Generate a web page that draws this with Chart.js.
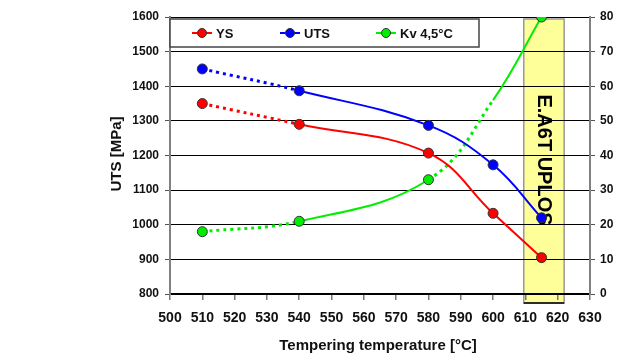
<!DOCTYPE html>
<html>
<head>
<meta charset="utf-8">
<script src="https://cdn.jsdelivr.net/npm/chart.js@4"></script>
<style>
    html, body { margin: 0; padding: 0; background: #fff; }
    #wrap { width: 623px; height: 362px; }
</style>
</head>
<body>
<div id="wrap"><canvas id="chart" width="623" height="362"></canvas></div>
<script>
// tempering temperatures, °C
const temps = [510, 540, 580, 600, 615];
const ysValues = [1350, 1290, 1207, 1033, 905];
const utsValues = [1450, 1387, 1287, 1173, 1020];
// Kv at 600 has no marker in the original, only the curve passes there
const kvTemps = [510, 540, 580, 600, 615];
const kvValues = [18, 21, 33, 56, 80];
const kvMarkers = [true, true, true, false, true];

const bandRange = [609.5, 622];
const bandLabel = "E.A6T UPLOS";
const seriesNames = ["YS", "UTS", "Kv 4,5°C"];
const seriesColors = ["#ff0000", "#0000ff", "#00ee00"];

const FONT = 'Arial, "Liberation Sans", sans-serif';

function toPoints(xs, ys) {
    return xs.map((x, i) => ({x: x, y: ys[i]}));
}

const dotted = [3, 4];

const bandPlugin = {
    id: "band",
    beforeDraw(chart) {
        const {ctx, chartArea, scales} = chart;
        const x0 = scales.x.getPixelForValue(bandRange[0]);
        const x1 = scales.x.getPixelForValue(bandRange[1]);
        const top = chartArea.top + 2;
        const bottom = chartArea.bottom + 9;
        ctx.save();
        ctx.fillStyle = "#ffff99";
        ctx.fillRect(x0, top, x1 - x0, bottom - top);
        ctx.strokeStyle = "#999";
        ctx.lineWidth = 1.5;
        ctx.strokeRect(x0, top, x1 - x0, bottom - top);
        ctx.strokeStyle = "#000";
        ctx.beginPath();
        ctx.moveTo(x0, bottom);
        ctx.lineTo(x1, bottom);
        ctx.stroke();
        ctx.restore();
    },
    beforeDatasetsDraw(chart) {
        const {ctx, scales} = chart;
        const cx = (scales.x.getPixelForValue(bandRange[0]) + scales.x.getPixelForValue(bandRange[1])) / 2;
        ctx.save();
        ctx.translate(cx, 160);
        ctx.rotate(Math.PI / 2);
        ctx.fillStyle = "#000";
        ctx.font = "bold 20px " + FONT;
        ctx.textAlign = "center";
        ctx.textBaseline = "middle";
        ctx.fillText(bandLabel, 0, 0);
        ctx.restore();
    }
};

const legendPlugin = {
    id: "boxLegend",
    afterDatasetsDraw(chart) {
        const {ctx, chartArea} = chart;
        const left = chartArea.left;
        const top = chartArea.top + 2;
        const w = 309, h = 28;
        ctx.save();
        ctx.fillStyle = "#fff";
        ctx.fillRect(left, top, w, h);
        ctx.strokeStyle = "#444";
        ctx.lineWidth = 1.5;
        ctx.strokeRect(left, top, w, h);
        const cy = top + h / 2;
        const starts = [left + 22, left + 110, left + 206];
        ctx.font = "bold 13px " + FONT;
        ctx.textBaseline = "middle";
        seriesNames.forEach((name, i) => {
            const sx = starts[i];
            ctx.strokeStyle = seriesColors[i];
            ctx.lineWidth = 2;
            ctx.beginPath();
            ctx.moveTo(sx, cy);
            ctx.lineTo(sx + 20, cy);
            ctx.stroke();
            ctx.beginPath();
            ctx.arc(sx + 10, cy, 4.5, 0, Math.PI * 2);
            ctx.fillStyle = seriesColors[i];
            ctx.fill();
            ctx.strokeStyle = "#333";
            ctx.lineWidth = 1;
            ctx.stroke();
            ctx.fillStyle = "#111";
            ctx.fillText(name, sx + 24, cy + 1);
        });
        ctx.restore();
    }
};

const titlePlugin = {
    id: "axisTitles",
    afterDraw(chart) {
        const {ctx, chartArea} = chart;
        ctx.save();
        ctx.fillStyle = "#111";
        ctx.font = "bold 15px " + FONT;
        ctx.textAlign = "center";
        ctx.textBaseline = "middle";
        ctx.fillText("Tempering temperature [°C]", (chartArea.left + chartArea.right) / 2 - 2, 346);
        ctx.translate(117, 154);
        ctx.rotate(-Math.PI / 2);
        ctx.font = "bold 15px " + FONT;
        ctx.fillText("UTS [MPa]", 0, 0);
        ctx.restore();
    }
};

function series(label, xs, ys, color, opts) {
    return Object.assign({
        label: label,
        data: toPoints(xs, ys),
        borderColor: color,
        backgroundColor: color,
        pointBackgroundColor: color,
        pointBorderColor: "#333",
        pointBorderWidth: 1,
        pointRadius: 5,
        borderWidth: 2,
        tension: 0.4,
        yAxisID: "y"
    }, opts || {});
}

const plain = v => String(v);

new Chart(document.getElementById("chart"), {
    type: "line",
    data: {
        datasets: [
            series("YS", temps, ysValues, seriesColors[0], {
                segment: {
                    borderDash: c => c.p0.parsed.x === 510 ? dotted : undefined,
                    borderWidth: c => c.p0.parsed.x === 510 ? 3 : 2
                }
            }),
            series("UTS", temps, utsValues, seriesColors[1], {
                segment: {
                    borderDash: c => c.p0.parsed.x === 510 ? dotted : undefined,
                    borderWidth: c => c.p0.parsed.x === 510 ? 3 : 2
                }
            }),
            series("Kv 4,5°C", kvTemps, kvValues, seriesColors[2], {
                yAxisID: "y1",
                pointRadius: kvMarkers.map(m => m ? 5 : 0),
                segment: {
                    borderDash: c => (c.p0.parsed.x === 510 || c.p0.parsed.x === 580) ? dotted : undefined,
                    borderWidth: c => (c.p0.parsed.x === 510 || c.p0.parsed.x === 580) ? 3 : 2
                }
            })
        ]
    },
    options: {
        responsive: false,
        animation: false,
        layout: {
            autoPadding: false,
            padding: {left: 0, right: 0, top: 17, bottom: 0}
        },
        plugins: {
            legend: {display: false},
            tooltip: {enabled: false}
        },
        scales: {
            x: {
                type: "linear",
                min: 500,
                max: 630,
                afterFit: s => { s.height = 68; },
                ticks: {
                    stepSize: 10,
                    color: "#111",
                    padding: 10,
                    maxRotation: 0,
                    callback: plain,
                    font: {family: FONT, size: 14, weight: "bold"}
                },
                grid: {drawOnChartArea: false, tickLength: 6, color: "#777", lineWidth: 1.5},
                border: {color: "#000", width: 2}
            },
            y: {
                position: "left",
                min: 800,
                max: 1600,
                afterFit: s => { s.width = 170; },
                ticks: {
                    stepSize: 100,
                    color: "#111",
                    padding: 6,
                    callback: plain,
                    font: {family: FONT, size: 12, weight: "bold"}
                },
                grid: {color: "#000", lineWidth: 1, tickLength: 5, tickColor: "#555"},
                border: {color: "#808080", width: 2}
            },
            y1: {
                position: "right",
                min: 0,
                max: 80,
                afterFit: s => { s.width = 33; },
                ticks: {
                    stepSize: 10,
                    color: "#111",
                    padding: 5,
                    callback: plain,
                    font: {family: FONT, size: 12, weight: "bold"}
                },
                grid: {drawOnChartArea: false, tickLength: 5, color: "#555"},
                border: {color: "#808080", width: 2}
            }
        }
    },
    plugins: [bandPlugin, legendPlugin, titlePlugin]
});
</script>
</body>
</html>
